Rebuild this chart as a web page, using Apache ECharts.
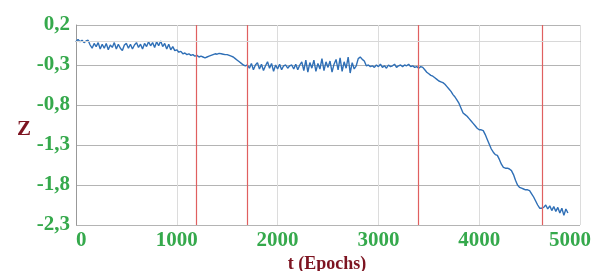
<!DOCTYPE html>
<html>
<head>
<meta charset="utf-8">
<script src="https://cdn.jsdelivr.net/npm/echarts@6/dist/echarts.min.js"></script>
<style>
  html, body { margin: 0; padding: 0; background: #fff; }
  #chart { width: 595px; height: 271px; }
</style>
</head>
<body>
<div id="chart"></div>
<script>
// epochs are sampled every 20 steps, starting at 0
var epochStep = 20;
// Z values, one every 20 epochs (0 .. 4880)
var zValues = [
  // 0 - 180
  -0.01, 0.02, -0.01, 0.01, -0.02, 0.00, 0.01, -0.05, -0.09, -0.03,
  // 200 - 380
  -0.07, -0.02, -0.10, -0.04, -0.09, -0.03, -0.11, -0.05, -0.08, -0.02,
  // 400 - 580
  -0.10, -0.04, -0.09, -0.12, -0.05, -0.03, -0.09, -0.04, -0.10, -0.05,
  // 600 - 780
  -0.02, -0.08, -0.04, -0.10, -0.03, -0.07, -0.01, -0.06, -0.02, -0.08,
  // 800 - 980
  -0.01, -0.06, 0.00, -0.07, -0.03, -0.10, -0.04, -0.11, -0.07, -0.12,
  // 1000 - 1180
  -0.11, -0.14, -0.13, -0.16, -0.15, -0.17, -0.16, -0.18, -0.17, -0.19,
  // 1200 - 1380
  -0.18, -0.20, -0.19, -0.20, -0.21, -0.20, -0.19, -0.18, -0.17, -0.16,
  // 1400 - 1580
  -0.165, -0.155, -0.16, -0.165, -0.17, -0.17, -0.18, -0.19, -0.20, -0.22,
  // 1600 - 1780
  -0.24, -0.26, -0.28, -0.30, -0.31, -0.30, -0.34, -0.28, -0.36, -0.30,
  // 1800 - 1980
  -0.27, -0.35, -0.29, -0.37, -0.31, -0.26, -0.34, -0.28, -0.38, -0.30,
  // 2000 - 2180
  -0.35, -0.29, -0.36, -0.31, -0.30, -0.34, -0.31, -0.30, -0.35, -0.29,
  // 2200 - 2380
  -0.36, -0.30, -0.26, -0.37, -0.24, -0.39, -0.27, -0.34, -0.24, -0.38,
  // 2400 - 2580
  -0.28, -0.35, -0.22, -0.37, -0.26, -0.33, -0.25, -0.39, -0.29, -0.23,
  // 2600 - 2780
  -0.36, -0.21, -0.38, -0.26, -0.34, -0.20, -0.40, -0.27, -0.35, -0.31,
  // 2800 - 2980
  -0.22, -0.20, -0.23, -0.25, -0.31, -0.30, -0.32, -0.31, -0.33, -0.30,
  // 3000 - 3180
  -0.32, -0.29, -0.33, -0.31, -0.34, -0.30, -0.32, -0.31, -0.29, -0.33,
  // 3200 - 3380
  -0.31, -0.30, -0.32, -0.30, -0.31, -0.29, -0.32, -0.31, -0.33, -0.32,
  // 3400 - 3580
  -0.34, -0.32, -0.33, -0.36, -0.39, -0.41, -0.43, -0.44, -0.46, -0.48,
  // 3600 - 3780
  -0.50, -0.51, -0.52, -0.54, -0.57, -0.60, -0.63, -0.67, -0.70, -0.74,
  // 3800 - 3980
  -0.78, -0.84, -0.90, -0.92, -0.94, -0.97, -1.00, -1.03, -1.06, -1.09,
  // 4000 - 4180
  -1.11, -1.11, -1.12, -1.17, -1.23, -1.29, -1.35, -1.39, -1.42, -1.43,
  // 4200 - 4380
  -1.48, -1.54, -1.58, -1.59, -1.59, -1.60, -1.62, -1.67, -1.74, -1.80,
  // 4400 - 4580
  -1.83, -1.84, -1.85, -1.86, -1.86, -1.87, -1.91, -1.95, -2.00, -2.05,
  // 4600 - 4780
  -2.09, -2.09, -2.08, -2.05, -2.10, -2.06, -2.12, -2.07, -2.13, -2.08,
  // 4800 - 4880
  -2.15, -2.09, -2.18, -2.10, -2.15
];
// red vertical markers (epochs)
var phaseLines = [1190, 1700, 3400, 4630];
var xTicks = [0, 1000, 2000, 3000, 4000, 5000];
var yTicks = [-2.3, -1.8, -1.3, -0.8, -0.3, 0.2];

var green = '#35a94c';
var darkRed = '#7d1421';
var labelFont = 'Liberation Serif';

var points = [];
for (var i = 0; i < zValues.length; i++) {
  points.push([i * epochStep, zValues[i]]);
}

var chart = echarts.init(document.getElementById('chart'));
var option = {
  animation: false,
  grid: { left: 76, right: 15, top: 25, bottom: 46, outerBoundsMode: 'none', containLabel: false },
  title: [
    {
      text: 't (Epochs)', left: 322, top: 250, textAlign: 'center',
      textStyle: { color: darkRed, fontFamily: labelFont, fontWeight: 'bold', fontSize: 18 }
    },
    {
      text: 'Z', left: 19, top: 114, textAlign: 'center',
      textStyle: { color: darkRed, fontFamily: labelFont, fontWeight: 'bold', fontSize: 21 }
    }
  ],
  xAxis: {
    type: 'value',
    min: xTicks[0],
    max: xTicks[xTicks.length - 1],
    interval: 1000,
    axisLine: { show: true, lineStyle: { color: '#999', width: 1 } },
    axisTick: { show: false },
    splitLine: { show: true, lineStyle: { color: '#dcdcdc', width: 1 } },
    axisLabel: {
      color: green, fontFamily: labelFont, fontWeight: 'bold', fontSize: 21,
      margin: 5, alignMinLabel: 'left',
      // last label sits a bit left of its gridline, as in the original
      formatter: function (v) { return v === xTicks[xTicks.length - 1] ? '{last|' + v + '}' : String(v); },
      rich: {
        last: {
          color: green, fontFamily: labelFont, fontWeight: 'bold', fontSize: 21,
          padding: [0, 20, 0, 0]
        }
      }
    }
  },
  yAxis: {
    type: 'value',
    min: yTicks[0],
    max: yTicks[yTicks.length - 1],
    interval: 0.5,
    axisLine: { show: true, lineStyle: { color: '#999', width: 1 } },
    axisTick: { show: false },
    splitLine: { show: true, lineStyle: { color: '#b4b4b4', width: 1 } },
    axisLabel: {
      color: green, fontFamily: labelFont, fontWeight: 'bold', fontSize: 21, margin: 6,
      formatter: function (v) { return v.toFixed(1).replace('.', ','); }
    }
  },
  series: [{
    type: 'line',
    data: points,
    showSymbol: false,
    lineStyle: { color: '#2f6fb6', width: 1.4 },
    markLine: {
      silent: true,
      symbol: 'none',
      label: { show: false },
      data: phaseLines.map(function (t) {
        return { xAxis: t, lineStyle: { color: '#e06060', width: 1.2, type: 'solid' } };
      }).concat([{ yAxis: 0, lineStyle: { color: '#d8d8d8', width: 1, type: 'solid' } }])
    }
  }]
};
chart.setOption(option);
</script>
</body>
</html>
